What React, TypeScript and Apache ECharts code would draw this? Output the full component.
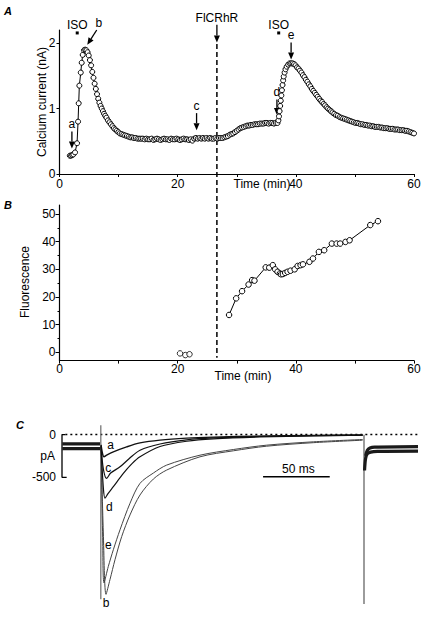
import React, { useEffect, useRef } from "react";
import * as echarts from "echarts";

// ---------- Panel A: calcium current (nA) vs time (min) ----------
const isoPeak1: number[][] = [
  [1.75, 0.28], [1.95, 0.28], [2.15, 0.29], [2.35, 0.3], [2.63, 0.33], [2.97, 0.47], [3.14, 0.8], [3.25, 1.08],
  [3.36, 1.35], [3.6, 1.55], [3.76, 1.7], [3.93, 1.82], [4.15, 1.89], [4.35, 1.9], [4.55, 1.89], [4.75, 1.86],
  [4.95, 1.81], [5.15, 1.74], [5.35, 1.66], [5.55, 1.56], [5.75, 1.47], [5.95, 1.38], [6.15, 1.3], [6.35, 1.22],
  [6.55, 1.15], [6.75, 1.09], [6.95, 1.04], [7.15, 1.0], [7.35, 0.96], [7.55, 0.92], [7.75, 0.89], [7.95, 0.86],
  [8.2, 0.82], [8.45, 0.79], [8.7, 0.76], [8.95, 0.73], [9.2, 0.7], [9.45, 0.68], [9.7, 0.66], [9.95, 0.64],
  [10.2, 0.62], [10.5, 0.61], [10.8, 0.6], [11.1, 0.59], [11.4, 0.58], [11.7, 0.57], [12.0, 0.56], [12.3, 0.56],
  [12.6, 0.55], [12.9, 0.55], [13.2, 0.54], [13.5, 0.54], [13.8, 0.54],
];
const plateau: number[][] = [
  [14.1, 0.54], [14.4, 0.53], [14.7, 0.54], [15.0, 0.53], [15.3, 0.53], [15.6, 0.54], [15.9, 0.52], [16.2, 0.53],
  [16.5, 0.54], [16.8, 0.53], [17.1, 0.52], [17.4, 0.53], [17.7, 0.54], [18.0, 0.53], [18.3, 0.53], [18.6, 0.52],
  [18.9, 0.54], [19.2, 0.53], [19.5, 0.53], [19.8, 0.54], [20.1, 0.53], [20.4, 0.52], [20.7, 0.53], [21.0, 0.54],
  [21.3, 0.53], [21.6, 0.53], [21.9, 0.52], [22.2, 0.53], [22.5, 0.51], [22.8, 0.54], [23.1, 0.55], [23.4, 0.54],
  [23.7, 0.55], [24.0, 0.54], [24.3, 0.55], [24.6, 0.54], [24.9, 0.55], [25.2, 0.54], [25.5, 0.55], [25.8, 0.54],
  [26.1, 0.54], [26.4, 0.55], [26.7, 0.54], [27.0, 0.55], [27.3, 0.55],
];
const dyeRise: number[][] = [
  [27.6, 0.55], [27.9, 0.56], [28.2, 0.57], [28.5, 0.58], [28.8, 0.6], [29.1, 0.61], [29.4, 0.62], [29.7, 0.64],
  [30.0, 0.66], [30.3, 0.68], [30.6, 0.7], [30.9, 0.71], [31.2, 0.72], [31.5, 0.73], [31.8, 0.74], [32.1, 0.74],
  [32.4, 0.75], [32.7, 0.75], [33.0, 0.76], [33.3, 0.76], [33.6, 0.76], [33.9, 0.77], [34.2, 0.77], [34.5, 0.77],
  [34.8, 0.78], [35.1, 0.78], [35.4, 0.77], [35.7, 0.78], [36.0, 0.78], [36.3, 0.77], [36.6, 0.78], [36.9, 0.78],
];
const isoPeak2: number[][] = [
  [37.05, 0.82], [37.15, 0.88], [37.25, 0.96], [37.35, 1.04], [37.45, 1.12], [37.55, 1.2], [37.65, 1.28], [37.75, 1.36],
  [37.85, 1.43], [37.95, 1.49], [38.1, 1.55], [38.25, 1.6], [38.45, 1.64], [38.7, 1.67], [38.95, 1.69], [39.2, 1.69],
  [39.45, 1.69], [39.7, 1.68], [39.95, 1.66], [40.2, 1.63], [40.45, 1.61], [40.7, 1.58], [40.95, 1.55], [41.2, 1.51],
  [41.45, 1.48], [41.7, 1.44], [41.95, 1.41], [42.2, 1.37], [42.45, 1.34], [42.7, 1.3], [42.95, 1.27], [43.2, 1.24],
  [43.45, 1.21], [43.7, 1.18], [43.95, 1.15], [44.2, 1.12], [44.45, 1.1], [44.7, 1.07], [44.95, 1.05], [45.2, 1.02],
  [45.45, 1.0], [45.7, 0.98], [45.95, 0.96], [46.2, 0.94], [46.5, 0.92], [46.8, 0.9], [47.1, 0.89], [47.4, 0.87],
  [47.7, 0.86], [48.0, 0.85], [48.3, 0.84], [48.6, 0.83], [48.9, 0.82], [49.2, 0.81], [49.5, 0.8], [49.8, 0.79],
  [50.1, 0.78], [50.4, 0.78], [50.7, 0.77], [51.0, 0.76], [51.3, 0.76], [51.6, 0.75], [51.9, 0.75], [52.2, 0.74],
  [52.5, 0.74], [52.8, 0.73], [53.1, 0.73], [53.4, 0.72], [53.7, 0.72], [54.0, 0.72], [54.3, 0.71], [54.6, 0.71],
  [54.9, 0.7], [55.2, 0.7], [55.5, 0.7], [55.8, 0.69], [56.1, 0.69], [56.4, 0.69], [56.7, 0.68], [57.0, 0.68],
  [57.3, 0.68], [57.6, 0.67], [57.9, 0.67], [58.2, 0.67], [58.5, 0.66], [58.8, 0.66], [59.1, 0.65], [59.4, 0.64],
  [59.7, 0.63], [60.0, 0.62],
];
const timeTicks = [0, 10, 20, 30, 40, 50, 60];
const timeLabels = [0, 20, 40, 60];
const currentTicks = [0, 1, 2];

// ---------- Panel B: fluorescence vs time (min) ----------
const fluoBefore: number[][] = [[20.4, -0.4], [21.3, -1.0], [22.0, -0.7]];
const fluoAfter: number[][] = [
  [28.7, 13.5], [29.9, 19.5], [30.9, 22.1], [32.0, 24.5], [32.6, 26.1], [33.0, 25.9], [34.9, 30.7], [35.5, 30.6],
  [36.1, 31.5], [36.5, 30.0], [36.9, 29.1], [37.3, 28.5], [37.5, 28.2], [37.8, 28.3], [38.2, 28.7], [38.6, 29.1],
  [39.1, 29.5], [39.8, 30.0], [40.3, 31.2], [40.8, 31.5], [41.2, 31.8], [42.3, 32.7], [42.9, 33.9], [43.9, 36.3],
  [44.8, 36.9], [46.1, 39.3], [46.9, 39.3], [47.5, 39.3], [48.4, 39.9], [49.1, 40.5], [52.6, 46.0], [53.9, 47.4],
];
const fluoTicks = [0, 10, 20, 30, 40, 50];
const fluoMinorTicks = [5, 15, 25, 35, 45];

// ---------- Panel C: current traces (pA) vs time (ms) ----------
const holdUpper: number[][] = [[-28.3, -110], [0, -110]];
const holdLower: number[][] = [[-28.3, -165], [0, -165]];
const traceA: number[][] = [
  [0.8, -120], [2, -230], [3, -260], [5, -240], [10, -202], [20, -144], [30, -98], [45, -65], [65, -42], [85, -30],
  [120, -18], [160, -10], [197, -5],
];
const traceC: number[][] = [
  [0.8, -130], [2.5, -400], [5, -512], [8, -450], [15, -377], [22, -280], [30, -183], [45, -110], [65, -62],
  [85, -40], [120, -22], [160, -12], [197, -6],
];
const traceD: number[][] = [
  [0.8, -140], [2.5, -620], [3.75, -744], [6, -690], [10, -609], [17.5, -454], [24, -340], [30, -260], [45, -140],
  [65, -78], [85, -50], [120, -28], [160, -16], [197, -8],
];
const traceE: number[][] = [
  [0.8, -150], [2, -1200], [3, -1733], [6.25, -1540], [10, -1346], [15, -1113], [22.5, -803], [30, -570], [40, -450],
  [50, -357], [75, -241], [100, -175], [125, -124], [160, -85], [197, -58],
];
const traceB: number[][] = [
  [0.8, -150], [2.5, -1150], [4.5, -1867], [7.5, -1694], [11.25, -1462], [16.3, -1191], [22.5, -939], [30, -706],
  [40, -520], [50, -415], [75, -260], [100, -190], [125, -136], [160, -95], [197, -66],
];
const onsetTransient: number[][] = [[0.6, 110], [0.6, -1925]];
const offsetTransient: number[][] = [[198.0, -3], [198.0, -1980]];
const tailLower: number[][] = [[198.4, -420], [199.2, -280], [200.5, -225], [203, -205], [208, -196], [238.5, -193]];
const tailUpper: number[][] = [[199.2, -250], [200.5, -185], [202.5, -158], [206, -148], [238.5, -142]];
const zeroLine: number[][] = [[-26, 0], [238.5, 0]];
const currentScaleBar: number[][] = [[-26, 0], [-28.5, 0], [-28.5, -500], [-25, -500]];
const timeScaleBar: number[][] = [[122.3, -493], [172.3, -493]];

const FONT = '"Liberation Sans", Arial, Helvetica, sans-serif';

function arrowEls(x1: number, y1: number, x2: number, y2: number, head = 7, half = 3) {
  const dx = x2 - x1, dy = y2 - y1;
  const L = Math.sqrt(dx * dx + dy * dy) || 1;
  const ux = dx / L, uy = dy / L;
  const bx = x2 - ux * head, by = y2 - uy * head;
  const px = -uy, py = ux;
  return [
    { type: "line", silent: true, shape: { x1, y1, x2: bx, y2: by }, style: { stroke: "#000", lineWidth: 1.3 } },
    {
      type: "polygon", silent: true,
      shape: { points: [[x2, y2], [bx + px * half, by + py * half], [bx - px * half, by - py * half]] },
      style: { fill: "#000" },
    },
  ];
}

function txt(text: string, x: number, y: number, extra: any = {}, rotation = 0) {
  return {
    type: "text", silent: true, x, y, rotation,
    style: {
      text, fill: "#000", font: extra.font || `12px ${FONT}`,
      textAlign: extra.align || "center", textVerticalAlign: "middle",
    },
  };
}

const circleStyle = { color: "#fff", borderColor: "#000", borderWidth: 1 };

export default function App() {
  const ref = useRef<HTMLDivElement>(null);
  useEffect(() => {
    document.body.style.margin = "0";
    if (!ref.current) return;
    const chart = echarts.init(ref.current, null, { renderer: "svg" });
    const axisCommon = {
      axisLine: { show: true, onZero: false, lineStyle: { color: "#000", width: 1.2 } },
      splitLine: { show: false },
    };
    const labelStyle = { color: "#000", fontSize: 12, fontFamily: FONT, margin: 4 };
    const traceLine = (data: number[][], color: string, width: number) => ({
      type: "line", xAxisIndex: 2, yAxisIndex: 3, data, symbol: "none", smooth: 0.3, silent: true,
      lineStyle: { color, width }, z: 3,
    });
    const straight = (data: number[][], color: string, width: number, type: any = "solid") => ({
      type: "line", xAxisIndex: 2, yAxisIndex: 3, data, symbol: "none", silent: true,
      lineStyle: { color, width, type }, z: 3,
    });
    chart.setOption({
      animation: false,
      grid: [
        { left: 59.5, top: 30, width: 354.5, height: 144 },
        { left: 59.5, top: 205, width: 354.5, height: 155.6 },
        { left: 62, top: 420, width: 356, height: 190 },
      ],
      xAxis: [
        {
          gridIndex: 0, type: "value", min: 0, max: 60, ...axisCommon,
          axisTick: { customValues: timeTicks, length: 3, lineStyle: { color: "#000" } },
          axisLabel: { customValues: timeLabels, ...labelStyle },
        },
        {
          gridIndex: 1, type: "value", min: 0, max: 60, ...axisCommon,
          axisTick: { customValues: timeTicks, length: 3, lineStyle: { color: "#000" } },
          axisLabel: { customValues: timeLabels, ...labelStyle, margin: 2 },
        },
        { gridIndex: 2, type: "value", min: -28.5, max: 238.5, show: false },
      ],
      yAxis: [
        {
          gridIndex: 0, type: "value", min: 0, max: 2.2, position: "left", ...axisCommon,
          axisTick: { customValues: currentTicks, length: 3, lineStyle: { color: "#000" } },
          axisLabel: { customValues: currentTicks, ...labelStyle },
        },
        {
          gridIndex: 1, type: "value", min: -3, max: 53.25, position: "left", ...axisCommon,
          axisTick: { customValues: fluoTicks, length: 4, lineStyle: { color: "#000" } },
          axisLabel: { customValues: fluoTicks, ...labelStyle },
        },
        {
          gridIndex: 1, type: "value", min: -3, max: 53.25, position: "left",
          axisLine: { show: false }, splitLine: { show: false }, axisLabel: { show: false },
          axisTick: { customValues: fluoMinorTicks, length: 2, lineStyle: { color: "#000" } },
        },
        { gridIndex: 2, type: "value", min: -2050, max: 170, show: false },
      ],
      series: [
        {
          type: "line", xAxisIndex: 0, yAxisIndex: 0, silent: true,
          data: [...isoPeak1, ...plateau, ...dyeRise, ...isoPeak2],
          symbol: "circle", symbolSize: 5, showAllSymbol: true,
          lineStyle: { color: "#000", width: 1 }, itemStyle: circleStyle,
        },
        {
          type: "line", xAxisIndex: 1, yAxisIndex: 1, silent: true, data: fluoAfter,
          symbol: "circle", symbolSize: 5.5, showAllSymbol: true,
          lineStyle: { color: "#000", width: 1 }, itemStyle: circleStyle,
        },
        {
          type: "scatter", xAxisIndex: 1, yAxisIndex: 1, silent: true, data: fluoBefore,
          symbol: "circle", symbolSize: 5.5, itemStyle: circleStyle,
        },
        straight(zeroLine, "#000", 1.4, [2, 3]),
        straight(currentScaleBar, "#000", 1.3),
        straight(timeScaleBar, "#000", 1.6),
        straight(holdUpper, "#1a1a1a", 3.2),
        straight(holdLower, "#1a1a1a", 3.2),
        straight(onsetTransient, "#777", 1.3),
        traceLine(traceB, "#444", 1),
        traceLine(traceE, "#444", 1),
        traceLine(traceD, "#111", 1.2),
        traceLine(traceC, "#111", 1.2),
        traceLine(traceA, "#111", 1.4),
        straight(offsetTransient, "#666", 1.3),
        traceLine(tailLower, "#1a1a1a", 3.2),
        traceLine(tailUpper, "#1a1a1a", 3.2),
      ],
    });

    const pA = (x: number, y: number) => chart.convertToPixel({ gridIndex: 0 } as any, [x, y]) as number[];
    const pB = (x: number, y: number) => chart.convertToPixel({ gridIndex: 1 } as any, [x, y]) as number[];
    const pC = (x: number, y: number) => chart.convertToPixel({ gridIndex: 2 } as any, [x, y]) as number[];

    const els: any[] = [];
    const arrowsA = [
      { label: "a", from: [2.1, 0.65], to: [2.1, 0.39], dx: 0 },
      { label: "b", from: [6.3, 2.2], to: [4.7, 1.975], dx: 2 },
      { label: "c", from: [23.2, 0.93], to: [23.2, 0.67], dx: 0 },
      { label: "d", from: [36.8, 1.14], to: [36.8, 0.9], dx: 0 },
      { label: "e", from: [39.2, 2.01], to: [39.2, 1.75], dx: 0 },
      { label: "FlCRhR", from: [26.64, 2.28], to: [26.64, 2.01], dx: 0 },
    ];
    arrowsA.forEach((a) => {
      const s = pA(a.from[0], a.from[1]);
      const e = pA(a.to[0], a.to[1]);
      els.push(...arrowEls(s[0], s[1], e[0], e[1]));
      els.push(txt(a.label, s[0] + a.dx, s[1] - 7));
    });
    [3.0, 37.1].forEach((t) => {
      const p = pA(t, 2.155);
      els.push({ type: "rect", silent: true, shape: { x: p[0] - 1.5, y: p[1] - 1.5, width: 3, height: 3 }, style: { fill: "#000" } });
      els.push(txt("ISO", p[0], p[1] - 8));
    });
    const dTop = pA(26.64, 2.0);
    const dBot = pB(26.64, -2);
    els.push({
      type: "line", silent: true, shape: { x1: dTop[0], y1: dTop[1] + 1, x2: dBot[0], y2: dBot[1] },
      style: { stroke: "#000", lineWidth: 1.5, lineDash: [5, 3] },
    });
    const traceLabels = [
      { t: "a", at: [8.0, -124] }, { t: "c", at: [6.2, -395] }, { t: "d", at: [7.0, -842] },
      { t: "e", at: [6.2, -1287] }, { t: "b", at: [4.5, -1966] },
    ];
    traceLabels.forEach((l) => {
      const p = pC(l.at[0], l.at[1]);
      els.push(txt(l.t, p[0], p[1]));
    });
    const z = pC(-28.5, 0);
    const m = pC(-28.5, -500);
    const sb = pC(147.3, -493);
    els.push(txt("0", z[0] - 6, z[1], { align: "right" }));
    els.push(txt("pA", z[0] - 7, (z[1] + m[1]) / 2, { align: "right" }));
    els.push(txt("-500", m[0] - 6, m[1], { align: "right" }));
    els.push(txt("50 ms", sb[0] + 2, sb[1] - 8));
    const bold = { font: `italic bold 11px ${FONT}` };
    els.push(txt("A", 8, 11, bold));
    els.push(txt("B", 8, 205, bold));
    els.push(txt("C", 20, 425, bold));
    els.push(txt("Calcium current (nA)", 41.5, 102, {}, Math.PI / 2));
    els.push(txt("Fluorescence", 25, 282, {}, Math.PI / 2));
    els.push(txt("Time (min)", 262, 184));
    els.push(txt("Time (min)", 243, 376));
    chart.setOption({ graphic: els });
    return () => chart.dispose();
  }, []);
  return <div ref={ref} style={{ width: 429, height: 618 }} />;
}
